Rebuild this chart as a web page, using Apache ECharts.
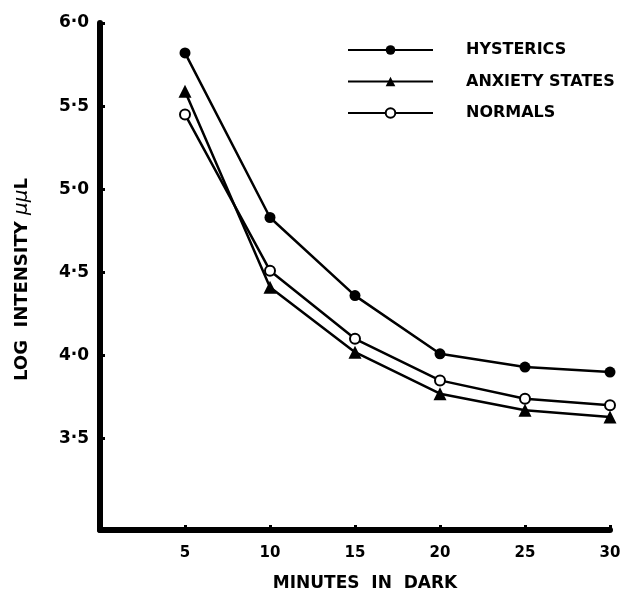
<!DOCTYPE html>
<html>
<head>
<meta charset="utf-8">
<script src="https://cdn.jsdelivr.net/npm/echarts@6/dist/echarts.min.js"></script>
<style>
  html, body { margin: 0; padding: 0; background: #fff; }
  #chart { width: 629px; height: 597px; }
</style>
</head>
<body>
<div id="chart"></div>
<script>
// Dark adaptation: threshold (log intensity) against minutes in the dark
const minutes = [5, 10, 15, 20, 25, 30];
const hysterics = [5.82, 4.83, 4.36, 4.01, 3.93, 3.90];
const anxietyStates = [5.59, 4.41, 4.02, 3.77, 3.67, 3.63];
const normals = [5.45, 4.51, 4.10, 3.85, 3.74, 3.70];
const yTicks = [3.5, 4.0, 4.5, 5.0, 5.5, 6.0];
const xTicks = [5, 10, 15, 20, 25, 30];

const FONT = 'DejaVu Sans';
const pairs = (ys) => minutes.map((m, i) => [m, ys[i]]);

const chart = echarts.init(document.getElementById('chart'), null, { renderer: 'canvas' });

const lineStyle = { color: '#000', width: 2.5 };

chart.setOption({
  animation: false,
  backgroundColor: '#fff',
  grid: { left: 100, right: 19, top: 23, bottom: 62 },
  legend: {
    orient: 'vertical',
    left: 347,
    top: 42,
    padding: 0,
    itemWidth: 85,
    itemHeight: 12,
    itemGap: 15.5,
    textStyle: {
      fontFamily: FONT,
      fontWeight: 'bold',
      fontSize: 16,
      color: '#000',
      padding: [0, 0, 0, 28]
    },
    data: ['HYSTERICS', 'ANXIETY STATES', 'NORMALS']
  },
  xAxis: {
    type: 'value',
    min: 0,
    max: 30,
    name: 'MINUTES  IN  DARK',
    nameLocation: 'middle',
    nameGap: 45,
    nameTextStyle: {
      fontFamily: FONT, fontWeight: 'bold', fontSize: 17, color: '#000',
      padding: [0, 0, 0, 20]
    },
    axisLine: { show: true, onZero: false, lineStyle: { color: '#000', width: 6 } },
    axisTick: { show: true, inside: true, length: 5, customValues: xTicks, lineStyle: { color: '#000', width: 3 } },
    axisLabel: {
      customValues: xTicks,
      margin: 16,
      fontFamily: FONT,
      fontWeight: 'bold',
      fontSize: 15,
      color: '#000'
    },
    splitLine: { show: false }
  },
  yAxis: {
    type: 'value',
    min: 2.95,
    max: 6.0,
    axisLine: { show: true, onZero: false, lineStyle: { color: '#000', width: 6 } },
    axisTick: { show: true, inside: true, length: 5, customValues: yTicks, lineStyle: { color: '#000', width: 3 } },
    axisLabel: {
      customValues: yTicks,
      margin: 11,
      fontFamily: FONT,
      fontWeight: 'bold',
      fontSize: 17,
      color: '#000',
      formatter: (v) => v.toFixed(1).replace('.', '·')
    },
    splitLine: { show: false }
  },
  graphic: [{
    type: 'text',
    left: 12,
    top: 178,
    rotation: Math.PI / 2,
    style: {
      text: 'LOG  INTENSITY {mu|μμ}L',
      rich: { mu: { fontFamily: FONT, fontStyle: 'italic', fontSize: 20, fill: '#000' } },
      fontFamily: FONT,
      fontWeight: 'bold',
      fontSize: 18,
      fill: '#000'
    }
  }],
  series: [
    {
      name: 'HYSTERICS',
      type: 'line',
      data: pairs(hysterics),
      symbol: 'circle',
      symbolSize: 11,
      itemStyle: { color: '#000' },
      lineStyle: lineStyle,
      z: 3
    },
    {
      name: 'ANXIETY STATES',
      type: 'line',
      data: pairs(anxietyStates),
      symbol: 'triangle',
      symbolSize: 13,
      itemStyle: { color: '#000' },
      lineStyle: lineStyle,
      z: 3
    },
    {
      name: 'NORMALS',
      type: 'line',
      data: pairs(normals),
      symbol: 'emptyCircle',
      symbolSize: 10,
      itemStyle: { color: '#000', borderColor: '#000', borderWidth: 2.5 },
      lineStyle: lineStyle,
      z: 4
    }
  ]
});
</script>
</body>
</html>
